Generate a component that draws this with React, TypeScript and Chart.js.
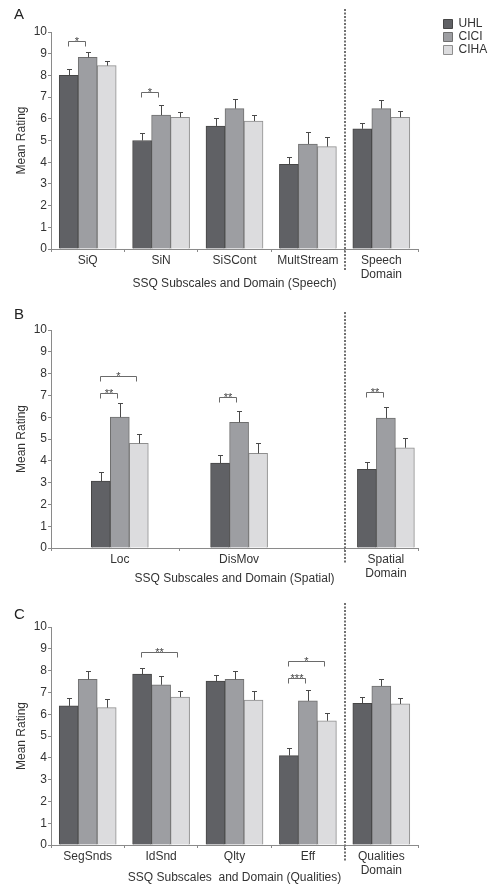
import React, { useEffect, useRef } from 'react';
import { Chart, registerables } from 'chart.js';

Chart.register(...registerables);

const FONT = "'Liberation Sans', Arial, Helvetica, sans-serif";
const TEXT = '#333333';
const AXIS = '#8a8a8a';

const seriesNames = ['UHL', 'CICI', 'CIHA'];

// ---- Panel A: Speech ----
const speechLabels: (string | string[])[] = ['SiQ', 'SiN', 'SiSCont', 'MultStream', ['Speech', 'Domain']];
const speechUHL = [8.0, 5.0, 5.67, 3.9, 5.54];
const speechCICI = [8.83, 6.17, 6.47, 4.84, 6.47];
const speechCIHA = [8.45, 6.07, 5.9, 4.72, 6.07];
const speechUHLErr = [0.28, 0.36, 0.35, 0.32, 0.28];
const speechCICIErr = [0.23, 0.45, 0.43, 0.57, 0.41];
const speechCIHAErr = [0.2, 0.24, 0.26, 0.46, 0.28];
const speechSig = [
  { cat: 0, from: 0, to: 1, level: 9.6, mark: '*' },
  { cat: 1, from: 0, to: 1, level: 7.22, mark: '*' },
];

// ---- Panel B: Spatial ----
const spatialLabels: (string | string[])[] = ['Loc', 'DisMov', ['Spatial', 'Domain']];
const spatialUHL = [3.07, 3.89, 3.61];
const spatialCICI = [6.0, 5.77, 5.96];
const spatialCIHA = [4.8, 4.34, 4.6];
const spatialUHLErr = [0.43, 0.36, 0.33];
const spatialCICIErr = [0.64, 0.53, 0.49];
const spatialCIHAErr = [0.42, 0.49, 0.43];
const spatialSig = [
  { cat: 0, from: 0, to: 1, level: 7.12, mark: '**' },
  { cat: 0, from: 0, to: 2, level: 7.9, mark: '*' },
  { cat: 1, from: 0, to: 1, level: 6.94, mark: '**' },
  { cat: 2, from: 0, to: 1, level: 7.14, mark: '**' },
];

// ---- Panel C: Qualities ----
const qualLabels: (string | string[])[] = ['SegSnds', 'IdSnd', 'Qlty', 'Eff', ['Qualities', 'Domain']];
const qualUHL = [6.38, 7.84, 7.52, 4.1, 6.5];
const qualCICI = [7.6, 7.35, 7.6, 6.61, 7.29];
const qualCIHA = [6.3, 6.79, 6.65, 5.7, 6.47];
const qualUHLErr = [0.38, 0.29, 0.26, 0.33, 0.3];
const qualCICIErr = [0.39, 0.42, 0.39, 0.48, 0.31];
const qualCIHAErr = [0.42, 0.29, 0.43, 0.36, 0.29];
const qualSig = [
  { cat: 1, from: 0, to: 2, level: 8.84, mark: '**' },
  { cat: 3, from: 0, to: 1, level: 7.66, mark: '***' },
  { cat: 3, from: 0, to: 2, level: 8.46, mark: '*' },
];

const yTicks = [0, 1, 2, 3, 4, 5, 6, 7, 8, 9, 10];

const seriesStyle = [
  { bg: '#606165', border: '#464646' },
  { bg: '#9d9ea2', border: '#6f6f6f' },
  { bg: '#dcdcde', border: '#8e8e8e' },
];

type Sig = { cat: number; from: number; to: number; level: number; mark: string };

type PanelCfg = {
  letter: string;
  labels: (string | string[])[];
  values: number[][];
  errors: number[][];
  sig: Sig[];
  axisTitle: string;
  legend: boolean;
  // layout
  slots: number;
  slotOf: number[];
  sepBoundary: number;
  padTop: number;
  letterGap: number;
  xHeight: number;
  xTitlePad: number;
  sepAbove: number;
  sepBelow: number;
};

const W = 489;
const H = 296;

function expand<T>(arr: T[], slots: number, slotOf: number[], fill: T): T[] {
  const out: T[] = new Array(slots).fill(fill);
  slotOf.forEach((s, i) => {
    out[s] = arr[i];
  });
  return out;
}

function buildChart(canvas: HTMLCanvasElement, cfg: PanelCfg) {
  const labels = expand<string | string[]>(cfg.labels, cfg.slots, cfg.slotOf, '');
  const subs = cfg.slotOf.slice(0, -1);
  const shown = new Set<number>([0, cfg.sepBoundary]);
  for (let i = 0; i < subs.length - 1; i++) shown.add(Math.ceil((subs[i] + subs[i + 1]) / 2));
  const tickCol = (c: any) => (c.index === undefined || shown.has(c.index) ? AXIS : 'rgba(0,0,0,0)');

  const datasets = seriesNames.map((name, si) => ({
    label: name,
    data: expand<number | null>(cfg.values[si], cfg.slots, cfg.slotOf, null),
    errors: expand<number | null>(cfg.errors[si], cfg.slots, cfg.slotOf, null),
    backgroundColor: seriesStyle[si].bg,
    borderColor: seriesStyle[si].border,
    borderWidth: 1,
    borderSkipped: 'start',
    barThickness: 19,
  }));

  const overlay = {
    id: 'overlay',
    afterLayout(chart: any) {
      if (cfg.legend && chart.legend) {
        const lg = chart.legend;
        lg.left = chart.chartArea.right + 24.5;
        lg.top = chart.chartArea.top - 15;
        lg.right = W;
        lg.bottom = lg.top + 60;
      }
    },
    afterDatasetsDraw(chart: any) {
      const ctx = chart.ctx as CanvasRenderingContext2D;
      const y = chart.scales.y;
      const x = chart.scales.x;
      const area = chart.chartArea;
      ctx.save();
      // error bars
      ctx.strokeStyle = '#4a4a4a';
      ctx.lineWidth = 1;
      chart.data.datasets.forEach((ds: any, di: number) => {
        const meta = chart.getDatasetMeta(di);
        meta.data.forEach((el: any, i: number) => {
          const v = ds.data[i];
          const e = ds.errors[i];
          if (v == null || e == null) return;
          const px = Math.round(el.x) + 0.5;
          const yTop = Math.round(y.getPixelForValue(v + e)) + 0.5;
          ctx.beginPath();
          ctx.moveTo(px, el.y);
          ctx.lineTo(px, yTop);
          ctx.moveTo(px - 2.5, yTop);
          ctx.lineTo(px + 2.5, yTop);
          ctx.stroke();
        });
      });
      // significance brackets
      ctx.strokeStyle = '#6a6a6a';
      ctx.fillStyle = '#444';
      ctx.font = `11px ${FONT}`;
      ctx.textAlign = 'center';
      ctx.textBaseline = 'alphabetic';
      cfg.sig.forEach((s) => {
        const slot = cfg.slotOf[s.cat];
        const x1 = Math.round(chart.getDatasetMeta(s.from).data[slot].x - 1) + 0.5;
        const x2 = Math.round(chart.getDatasetMeta(s.to).data[slot].x - 3) + 0.5;
        const yb = Math.round(y.getPixelForValue(s.level)) + 0.5;
        ctx.beginPath();
        ctx.moveTo(x1, yb + 5);
        ctx.lineTo(x1, yb);
        ctx.lineTo(x2, yb);
        ctx.lineTo(x2, yb + 5);
        ctx.stroke();
        ctx.fillText(s.mark, (x1 + x2) / 2, yb + 3);
      });
      // domain separator
      const sx = Math.round(x.getPixelForValue(cfg.sepBoundary - 0.5));
      ctx.strokeStyle = '#707070';
      ctx.lineWidth = 2;
      ctx.setLineDash([2, 1.5]);
      ctx.beginPath();
      ctx.moveTo(sx, area.top - cfg.sepAbove);
      ctx.lineTo(sx, area.bottom + cfg.sepBelow);
      ctx.stroke();
      ctx.restore();
    },
  };

  return new Chart(canvas, {
    type: 'bar',
    data: { labels, datasets: datasets as any },
    plugins: [overlay],
    options: {
      responsive: false,
      animation: false,
      events: [],
      layout: { padding: { left: 14, right: 71, top: cfg.padTop, bottom: 0 } },
      plugins: {
        tooltip: { enabled: false },
        title: {
          display: true,
          text: cfg.letter,
          align: 'start',
          color: '#222',
          font: { size: 15, family: FONT, weight: 'normal' },
          padding: { top: 0, bottom: cfg.letterGap },
        },
        legend: {
          display: cfg.legend,
          position: 'chartArea',
          align: 'start',
          labels: {
            boxWidth: 9,
            boxHeight: 9,
            padding: 1,
            color: TEXT,
            font: { size: 12, family: FONT },
          },
        },
      },
      scales: {
        x: {
          type: 'category',
          afterFit: (s: any) => {
            s.height = cfg.xHeight;
          },
          grid: {
            drawOnChartArea: false,
            offset: true,
            tickLength: 3,
            color: tickCol,
            tickColor: tickCol,
          },
          border: { color: AXIS, width: 1 },
          ticks: {
            autoSkip: false,
            maxRotation: 0,
            minRotation: 0,
            padding: 1,
            color: TEXT,
            font: { size: 12, family: FONT, lineHeight: 1.2 },
          },
          title: {
            display: true,
            text: cfg.axisTitle,
            color: TEXT,
            font: { size: 12, family: FONT },
            padding: { top: 0, bottom: cfg.xTitlePad },
          },
        },
        y: {
          min: 0,
          max: 10,
          afterFit: (s: any) => {
            s.width = 37;
          },
          afterBuildTicks: (s: any) => {
            s.ticks = yTicks.map((v) => ({ value: v }));
          },
          grid: { drawOnChartArea: false, tickLength: 3, color: AXIS },
          border: { color: AXIS, width: 1 },
          ticks: {
            padding: 1,
            color: TEXT,
            font: { size: 12, family: FONT },
          },
          title: {
            display: true,
            text: 'Mean Rating',
            color: TEXT,
            font: { size: 12, family: FONT },
            padding: { top: 0, bottom: 0 },
          },
        },
      },
    } as any,
  });
}

const panels: PanelCfg[] = [
  {
    letter: 'A',
    labels: speechLabels,
    values: [speechUHL, speechCICI, speechCIHA],
    errors: [speechUHLErr, speechCICIErr, speechCIHAErr],
    sig: speechSig,
    axisTitle: 'SSQ Subscales and Domain (Speech)',
    legend: true,
    slots: 5,
    slotOf: [0, 1, 2, 3, 4],
    sepBoundary: 4,
    padTop: 6,
    letterGap: 8,
    xHeight: 47,
    xTitlePad: 4.8,
    sepAbove: 23,
    sepBelow: 22,
  },
  {
    letter: 'B',
    labels: spatialLabels,
    values: [spatialUHL, spatialCICI, spatialCIHA],
    errors: [spatialUHLErr, spatialCICIErr, spatialCIHAErr],
    sig: spatialSig,
    axisTitle: 'SSQ Subscales and Domain (Spatial)',
    legend: false,
    slots: 40,
    slotOf: [7, 20, 36],
    sepBoundary: 32,
    padTop: 10,
    letterGap: 6,
    xHeight: 44,
    xTitlePad: 5.8,
    sepAbove: 18,
    sepBelow: 15,
  },
  {
    letter: 'C',
    labels: qualLabels,
    values: [qualUHL, qualCICI, qualCIHA],
    errors: [qualUHLErr, qualCICIErr, qualCIHAErr],
    sig: qualSig,
    axisTitle: 'SSQ Subscales  and Domain (Qualities)',
    legend: false,
    slots: 5,
    slotOf: [0, 1, 2, 3, 4],
    sepBoundary: 4,
    padTop: 14,
    letterGap: 3,
    xHeight: 43,
    xTitlePad: 2.8,
    sepAbove: 24,
    sepBelow: 16,
  },
];

function Panel({ cfg }: { cfg: PanelCfg }) {
  const ref = useRef<HTMLCanvasElement | null>(null);
  useEffect(() => {
    if (!ref.current) return;
    const chart = buildChart(ref.current, cfg);
    return () => chart.destroy();
  }, [cfg]);
  return <canvas ref={ref} width={W} height={H} style={{ display: 'block', width: W, height: H }} />;
}

export default function App() {
  return (
    <div style={{ position: 'absolute', left: 0, top: 0, width: W, height: 888, background: '#fff' }}>
      {panels.map((p) => (
        <Panel key={p.letter} cfg={p} />
      ))}
    </div>
  );
}
